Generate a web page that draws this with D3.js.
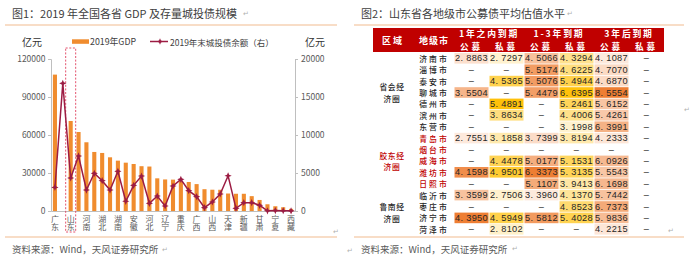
<!DOCTYPE html>
<html lang="zh">
<head>
<meta charset="UTF-8">
<title>城投债规模与估值</title>
<script src="https://d3js.org/d3.v7.min.js"></script>
<style>
  body { margin:0; background:#fff; overflow:hidden; }
  svg { display:block; font-family:"Noto Sans CJK SC", sans-serif; }
  .axis path, .axis line { stroke:#bfbfbf; }
  .axis text { fill:#595959; font-size:8.5px; font-family:"Noto Sans CJK SC", sans-serif; }
  .xlab text { font-size:8px; writing-mode:vertical-rl; }
  .num { font-family:"Liberation Sans", Arial, sans-serif; }
</style>
</head>
<body>
<svg width="700" height="263"></svg>
<script>
// ---- 图1：各省 GDP 与城投债余额 ----
const provinces = ['广东','江苏','山东','浙江','河南','四川','湖北','福建','湖南','上海','安徽','北京','河北','陕西','辽宁',
  '江西','重庆','云南','广西','内蒙古','山西','贵州','天津','黑龙江','新疆','吉林','甘肃','海南','宁夏','青海','西藏'];
const gdp = [107671, null, 71067, 62352, 54259, 46616, 45828, 42395, 39752, 38155, 37114, 35371, 35105, 25793, 24909,
  24758, 23606, 22900, 21237, 17213, 16800, 16769, 13800, 13613, 13597, 11727, 8718, 5309, 3748, 2966, 1698];
const debt = [3100, 16800, 4340, 7240, 2760, 4960, 3990, 2760, 5220, 1280, 3380, 4600, 1010, 1970, 660,
  3290, 4170, 2680, 1890, 440, 1190, 2240, 4640, 350, 1100, 1100, 750, 30, 60, 40, 20];
const leftTicks = [0, 30000, 60000, 90000, 120000];
const rightTicks = [0, 5000, 10000, 15000, 20000];

// ---- 图2：山东各地级市估值 ----
const cities = ['济南市','淄博市','泰安市','聊城市','德州市','滨州市','东营市','青岛市','烟台市','威海市','潍坊市','日照市',
  '临沂市','枣庄市','济宁市','菏泽市'];
const regions = [
  {name:['省会经','济圈'], first:'济南市', last:'东营市', red:false},
  {name:['胶东经','济圈'], first:'青岛市', last:'日照市', red:true},
  {name:['鲁南经','济圈'], first:'临沂市', last:'菏泽市', red:false}
];
const redCities = ['青岛市','烟台市','威海市','潍坊市','日照市'];
const groups = ['1年之内到期','1-3年到期','3年后到期'];
const kinds = ['公募','私募'];
const pub1 = [2.8863, null, null, 3.5504, null, null, null, 2.7551, null, null, 4.1598, null, 3.3599, null, 4.3950, null];
const pri1 = [2.7297, null, 4.5365, null, 5.4891, 3.8634, null, 3.1858, null, 4.4478, 4.9501, null, 2.7506, null, 4.5949, 2.8102];
const pub3 = [4.5066, 5.5174, 5.5076, 5.4479, null, null, null, 3.7399, null, 5.0177, 6.3373, 5.1107, 3.3960, null, 5.5812, null];
const pri3 = [4.3294, 4.6225, 5.4944, 6.6395, 5.2461, 4.4006, 3.1998, 3.8194, null, 5.1531, 5.3135, 3.9413, 4.1370, 4.8523, 5.4028, null];
const pubL = [4.1087, 4.7070, 4.6870, 8.5554, 5.6152, 5.4261, 6.3991, 4.2333, null, 6.0926, 5.5543, 6.1698, 5.7442, 6.7373, 5.9836, 4.2215];
const priL = cities.map(() => null);
const valueCols = [pub1, pri1, pub3, pri3, pubL, priL];

const svg = d3.select('svg');
const grey = '#404040';
const beige = '#f6d2b4';
const barColor = '#f08c2e';
const lineColor = '#9c1c43';

// 标题、分隔线、资料来源
function frame(x0, x1, title, tx) {
  svg.append('text').attr('x', tx).attr('y', 13).attr('dominant-baseline','central')
    .attr('font-size', 11).attr('fill', grey).text(title);
  svg.append('line').attr('x1', x0).attr('x2', x1).attr('y1', 25).attr('y2', 25)
    .attr('stroke', beige).attr('stroke-width', 1.5);
  svg.append('line').attr('x1', x0).attr('x2', x1).attr('y1', 237).attr('y2', 237)
    .attr('stroke', beige).attr('stroke-width', 1.5);
  svg.append('text').attr('x', tx).attr('y', 249).attr('dominant-baseline','central')
    .attr('font-size', 9.5).attr('fill', '#595959').text('资料来源：Wind，天风证券研究所');
}
frame(5, 337, '图1：2019 年全国各省 GDP 及存量城投债规模', 12);
frame(354, 684, '图2：山东省各地级市公募债平均估值水平', 361);

// 回车符号
[[243,13],[567,13],[162,249],[512,248],[333,231],[347,250],[668,230],[684,109]].forEach(p => {
  svg.append('text').attr('x', p[0]).attr('y', p[1]).attr('dominant-baseline','central')
    .attr('font-size', 7).attr('fill', '#b0b0b0').text('↵');
});

// ---------- 左图 ----------
const x = d3.scaleBand().domain(provinces).range([51, 295]).paddingInner(0.48).paddingOuter(0.24);
const yL = d3.scaleLinear().domain([0, 120000]).range([211, 59]);
const yR = d3.scaleLinear().domain([0, 20000]).range([211, 59]);

svg.append('g').attr('class','axis').attr('transform','translate(51,0)')
  .call(d3.axisLeft(yL).tickValues(leftTicks).tickSize(3).tickPadding(2.5).tickFormat(d3.format('d')));
svg.append('g').attr('class','axis').attr('transform','translate(295,0)')
  .call(d3.axisRight(yR).tickValues(rightTicks).tickSize(3).tickPadding(3).tickFormat(d3.format('d')));

svg.append('g').selectAll('rect')
  .data(provinces.map((p, i) => ({p, v: gdp[i]})).filter(d => d.v != null))
  .join('rect')
  .attr('x', d => x(d.p)).attr('width', x.bandwidth())
  .attr('y', d => yL(d.v)).attr('height', d => 211 - yL(d.v))
  .attr('fill', barColor);

// 横轴：每隔一个省份标注，竖排
svg.append('g').attr('class','axis xlab').attr('transform','translate(0,211)')
  .call(d3.axisBottom(x).tickValues(provinces.filter((p, i) => i % 2 === 0)).tickSize(0))
  .selectAll('.tick text').attr('y', 4).attr('dy', null).attr('text-anchor', 'start');

// 山东虚线框
svg.append('rect')
  .attr('x', x('山东') + x.bandwidth()/2 - 5).attr('width', 10)
  .attr('y', 48).attr('height', 184)
  .attr('fill', 'none').attr('stroke', '#e0405e').attr('stroke-width', 0.9)
  .attr('stroke-dasharray', '2,1.6');

const star4 = {
  draw(ctx, size) {
    const r = Math.sqrt(size), ri = r * 0.42;
    for (let k = 0; k < 8; k++) {
      const a = k * Math.PI / 4 - Math.PI / 2, rad = k % 2 ? ri : r;
      const px = Math.cos(a) * rad, py = Math.sin(a) * rad;
      if (k === 0) ctx.moveTo(px, py); else ctx.lineTo(px, py);
    }
    ctx.closePath();
  }
};
const pts = provinces.map((p, i) => ({p, v: debt[i]}));
svg.append('path').datum(pts)
  .attr('d', d3.line().x(d => x(d.p) + x.bandwidth()/2).y(d => yR(d.v)))
  .attr('fill', 'none').attr('stroke', lineColor).attr('stroke-width', 1.5);
svg.append('g').selectAll('path').data(pts).join('path')
  .attr('transform', d => `translate(${x(d.p) + x.bandwidth()/2},${yR(d.v)})`)
  .attr('d', d3.symbol().type(star4).size(13))
  .attr('fill', lineColor);

// 图例与单位
svg.append('text').attr('x', 22).attr('y', 41).attr('dominant-baseline','central')
  .attr('font-size', 10).attr('fill', '#333').text('亿元');
svg.append('text').attr('x', 305).attr('y', 41).attr('dominant-baseline','central')
  .attr('font-size', 10).attr('fill', '#333').text('亿元');
svg.append('rect').attr('x', 72).attr('y', 39.3).attr('width', 17).attr('height', 4.5).attr('fill', barColor);
svg.append('text').attr('x', 90).attr('y', 41.5).attr('dominant-baseline','central')
  .attr('font-size', 8.8).attr('fill', grey).text('2019年GDP');
svg.append('line').attr('x1', 150).attr('x2', 168).attr('y1', 41.5).attr('y2', 41.5)
  .attr('stroke', lineColor).attr('stroke-width', 1.5);
svg.append('path').attr('transform','translate(160,41.5)').attr('d', d3.symbol().type(star4).size(10)).attr('fill', lineColor);
svg.append('text').attr('x', 170).attr('y', 41.5).attr('dominant-baseline','central')
  .attr('font-size', 8.5).attr('fill', grey).text('2019年末城投债余额（右）');

// ---------- 右图：表格 ----------
const hdrRed = '#c00000';
const cx = d3.scaleBand().domain(d3.range(6)).range([454, 664]);
const ry = d3.scaleBand().domain(cities).range([52.6, 52.6 + cities.length * 11.4]);
const T = svg.append('g');

T.append('rect').attr('x', 373).attr('y', 28).attr('width', 664 - 373).attr('height', 24).attr('fill', hdrRed);
T.append('text').attr('x', 393).attr('y', 40).attr('text-anchor','middle').attr('dominant-baseline','central')
  .attr('font-size', 9).attr('font-weight', 700).attr('letter-spacing', 2).attr('fill', '#fff').text('区域');
T.append('text').attr('x', 434).attr('y', 40).attr('text-anchor','middle').attr('dominant-baseline','central')
  .attr('font-size', 9).attr('font-weight', 700).attr('letter-spacing', 1).attr('fill', '#fff').text('地级市');
groups.forEach((g, gi) => {
  T.append('text').attr('x', cx(gi * 2) + cx.bandwidth()).attr('y', 33.3)
    .attr('text-anchor','middle').attr('dominant-baseline','central')
    .attr('font-size', 8.8).attr('font-weight', 700).attr('letter-spacing', 1.8).attr('fill', '#fff').text(g);
  kinds.forEach((k, ki) => {
    T.append('text').attr('x', cx(gi * 2 + ki) + cx.bandwidth()/2).attr('y', 46.3)
      .attr('text-anchor','middle').attr('dominant-baseline','central')
      .attr('font-size', 8.6).attr('font-weight', 700).attr('letter-spacing', 2.8).attr('fill', '#fff').text(k);
  });
});

// 色阶：公募偏橙，私募偏黄
const colScale = valueCols.map((vals, ci) => {
  const ext = d3.extent(vals.filter(v => v != null));
  const range = ci % 2 === 0 ? ['#fde9dc', '#ee7e33'] : ['#fff2cf', '#ffc10a'];
  return ext[0] == null ? null : d3.scaleLinear().domain(ext).range(range).interpolate(d3.interpolateRgb);
});
const fmt = v => d3.format('.4f')(v).replace('.', '. ');

valueCols.forEach((vals, ci) => {
  const cells = T.append('g').selectAll('g').data(cities.map((c, i) => ({c, v: vals[i]}))).join('g');
  cells.filter(d => d.v != null).append('rect')
    .attr('x', cx(ci) + 0.5).attr('width', cx.bandwidth() - 1)
    .attr('y', d => ry(d.c) + 0.4).attr('height', ry.bandwidth() - 0.8)
    .attr('fill', d => colScale[ci](d.v));
  cells.append('text').attr('class', 'num')
    .attr('x', cx(ci) + cx.bandwidth()/2).attr('y', d => ry(d.c) + ry.bandwidth()/2)
    .attr('text-anchor','middle').attr('dominant-baseline','central')
    .attr('font-size', 9.2).attr('letter-spacing', 0.3).attr('fill', '#262626')
    .text(d => d.v == null ? '–' : fmt(d.v));
});

T.append('g').selectAll('text').data(cities).join('text')
  .attr('x', 434).attr('y', d => ry(d) + ry.bandwidth()/2)
  .attr('text-anchor','middle').attr('dominant-baseline','central')
  .attr('font-size', 7.8).attr('font-weight', 500).attr('letter-spacing', 2)
  .attr('fill', d => redCities.includes(d) ? '#c00000' : '#262626')
  .text(d => d);

regions.forEach(r => {
  const mid = (ry(r.first) + ry(r.last) + ry.bandwidth()) / 2;
  r.name.forEach((line, k) => {
    T.append('text').attr('x', 392).attr('y', mid + (k - 0.5) * 11.6)
      .attr('text-anchor','middle').attr('dominant-baseline','central')
      .attr('font-size', 7.8).attr('font-weight', 500).attr('letter-spacing', 0.6)
      .attr('fill', r.red ? '#c00000' : '#262626').text(line);
  });
});
</script>
</body>
</html>
